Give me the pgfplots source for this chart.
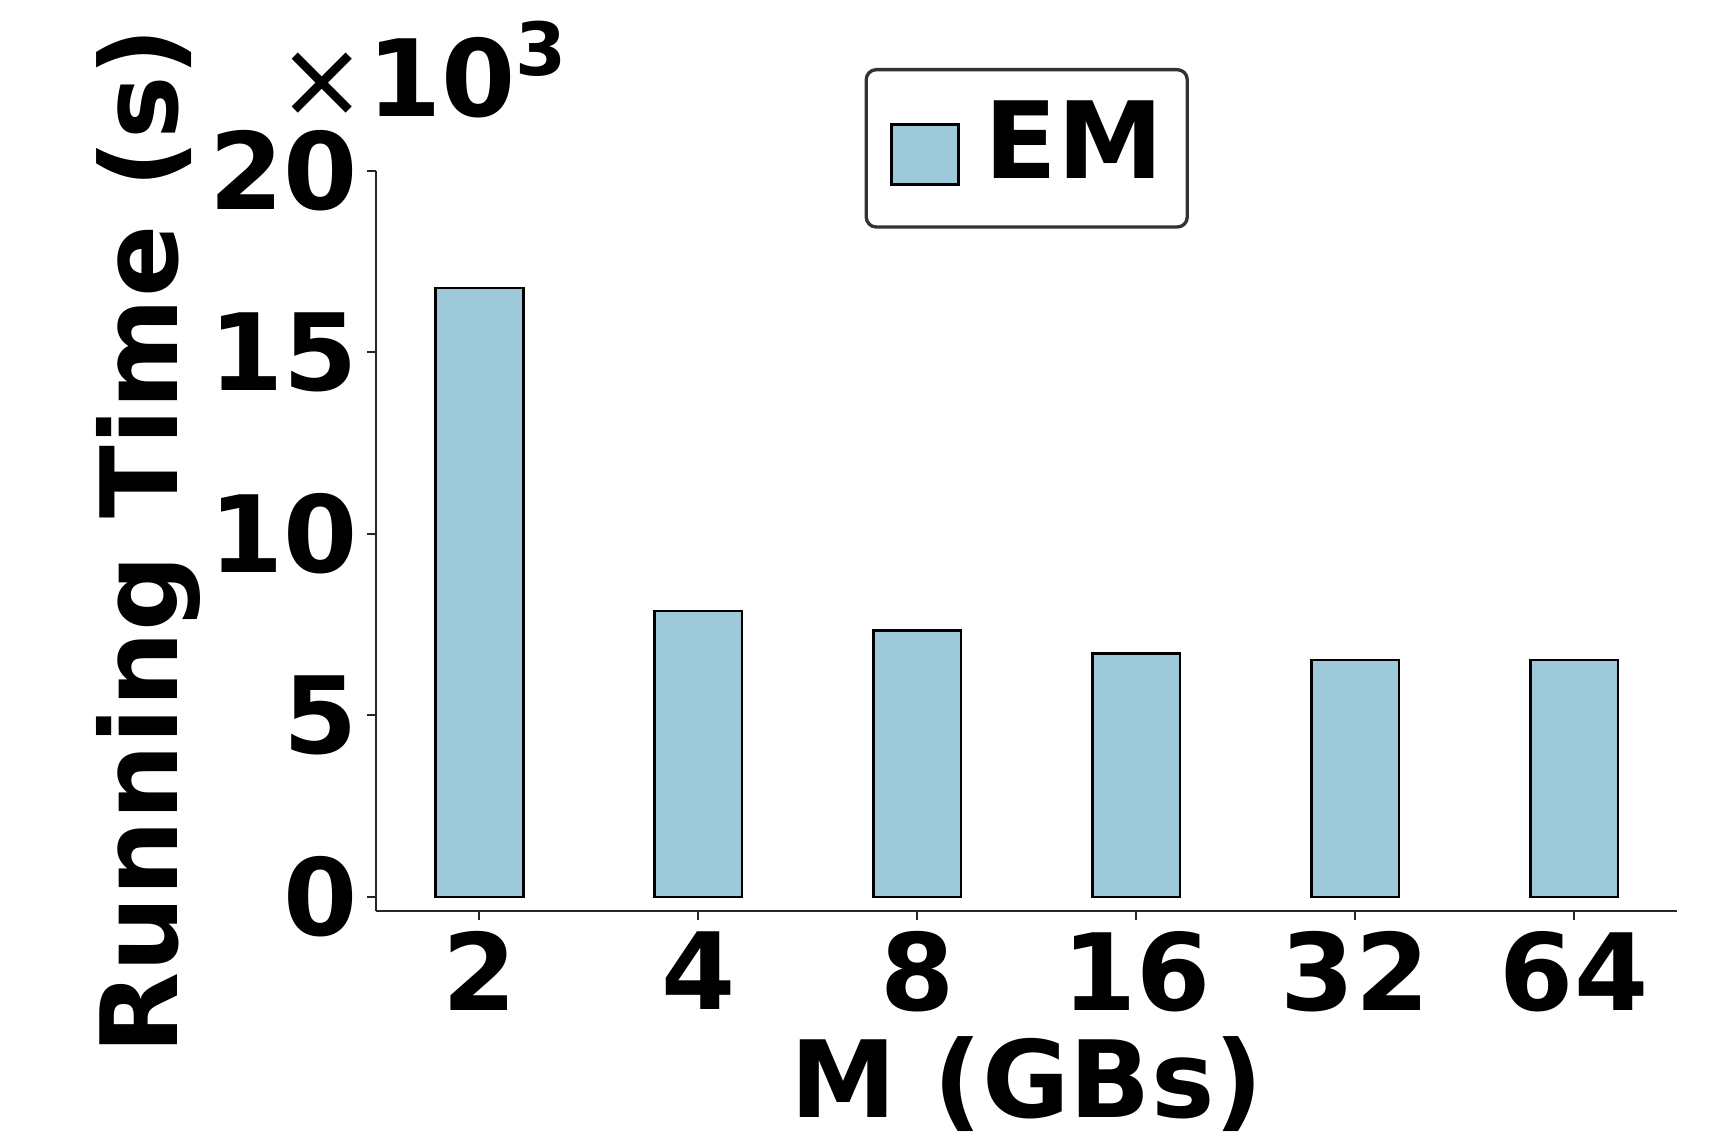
\documentclass[border=0pt]{standalone}
\usepackage{pgfplots}
\pgfplotsset{compat=1.18}
\usepackage{fontspec}
\setmainfont{DejaVu Sans}
\definecolor{barcol}{RGB}{157,201,219}
\definecolor{legframe}{RGB}{51,51,51}
\newcommand{\bigfont}{\fontsize{32}{38}\selectfont\bfseries}
\begin{document}
\begin{tikzpicture}
\begin{axis}[
  scale only axis, width=390.15pt, height=222pt,
  at={(0,0)}, anchor=south west,
  xmin=-0.47, xmax=5.47, ymin=-0.39, ymax=20,
  axis x line*=bottom, axis y line*=left,
  axis line style={line width=0.6pt, color=black!85},
  xtick={0,1,2,3,4,5}, xticklabels={2,4,8,16,32,64},
  ytick={0,5,10,15,20},
  tick align=outside, major tick length=2.7pt,
  tick style={line width=0.6pt, color=black!85},
  /pgf/number format/assume math mode=true,
  xticklabel style={font=\bigfont, inner sep=0pt, anchor=north, yshift=-3.2pt},
  yticklabel style={font=\bigfont, inner sep=0pt, anchor=east, xshift=-2.6pt},
  xlabel={M (GBs)},
  ylabel={Running Time (s)},
  xlabel style={font=\bigfont, inner sep=0pt, anchor=base, at={([yshift=-62pt]rel axis cs:0.5,0)}},
  ylabel style={font=\bigfont, inner sep=0pt, anchor=base, at={([xshift=-59.55pt]rel axis cs:0,0.5)}},
  legend style={at={([yshift=30.9pt]rel axis cs:0.5,1)}, anchor=north, draw=legframe, line width=1pt,
    rounded corners=3pt, inner xsep=7.1pt, inner ysep=9.3pt, font=\bigfont, column sep=7.5pt,
    nodes={inner sep=0pt}},
]
\addplot[ybar, bar width=0.4, bar shift=0pt, fill=barcol, draw=black, line width=0.8pt,
  legend image code/.code={\draw[sharp corners, fill=barcol, draw=black, line width=0.8pt] (0pt,-12.8pt) rectangle (20.1pt,5.2pt); \path (0pt,-15.8pt);}]
  coordinates {(0,16.78) (1,7.88) (2,7.34) (3,6.71) (4,6.53) (5,6.53)};
\addlegendentry{EM}
\end{axis}
\node[anchor=base west, inner sep=0pt, font=\bigfont] at (-29.85pt,238.2pt)
  {{\mdseries ×}10\raisebox{12.3pt}{\fontsize{22}{26}\selectfont\bfseries 3}};
\pgfresetboundingbox
\path (-112.95pt,-68.7pt) rectangle (400.35pt,273.3pt);
\end{tikzpicture}
\end{document}
